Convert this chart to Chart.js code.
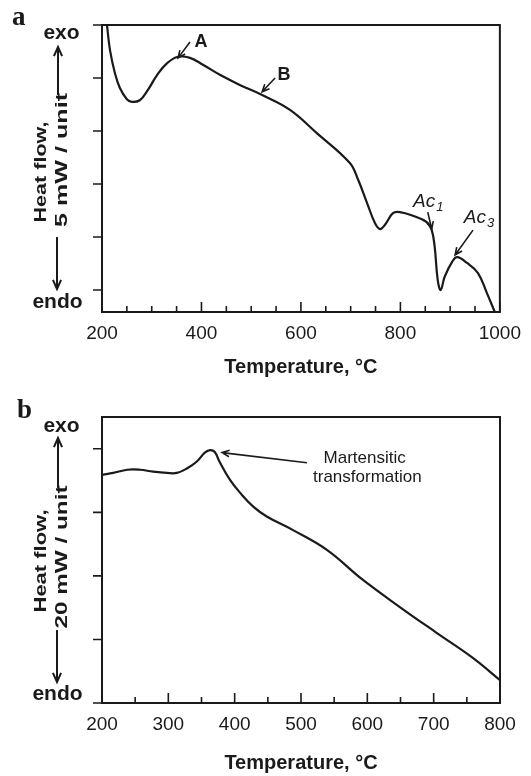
<!DOCTYPE html>
<html>
<head>
<meta charset="utf-8">
<script src="https://cdn.jsdelivr.net/npm/chart.js@4.4.0/dist/chart.umd.min.js"></script>
<style>
  html, body { margin:0; padding:0; background:#fff; }
  .panel { position:relative; width:531px; height:388px; }
</style>
</head>
<body>
<div class="panel"><canvas id="chartA"></canvas></div>
<div class="panel"><canvas id="chartB"></canvas></div>
<script>

/* ---------- panel a : heating trace, 5 mW / unit ---------- */
const tempA = [202, 210, 216, 226, 236, 250, 260, 276, 292, 311, 331, 353, 377, 403, 437, 477, 522,
               578, 632, 698, 715, 733, 749, 759, 769, 785, 799, 825, 853, 863, 869, 875, 881,
               889, 904, 914, 934, 956, 974, 990];
const flowA = [5.6, 5.0, 4.53, 4.09, 3.81, 3.60, 3.55, 3.58, 3.77, 4.06, 4.28, 4.40, 4.38, 4.25, 4.06, 3.87, 3.68,
               3.40, 2.96, 2.40, 2.08, 1.64, 1.26, 1.15, 1.23, 1.45, 1.47, 1.40, 1.28, 1.13, 0.81, 0.19, 0.0,
               0.25, 0.53, 0.62, 0.51, 0.32, -0.06, -0.42];
const xMajorA = [200, 400, 600, 800, 1000];
const xMinorA = [250, 300, 350, 450, 500, 550, 650, 700, 750, 850, 900, 950];
const yTicksA = [0, 1, 2, 3, 4, 5];

/* ---------- panel b : cooling trace, 20 mW / unit ---------- */
const tempB = [201, 217, 238, 257, 277, 298, 313, 328, 343, 355, 363, 370, 377, 393, 408, 428, 449,
               488, 539, 593, 649, 705, 759, 800];
const flowB = [3.59, 3.62, 3.67, 3.67, 3.64, 3.62, 3.62, 3.69, 3.80, 3.94, 3.98, 3.95, 3.80, 3.51, 3.31, 3.09, 2.93,
               2.72, 2.41, 1.94, 1.51, 1.10, 0.71, 0.36];
const xMajorB = [200, 300, 400, 500, 600, 700, 800];
const xMinorB = [250, 350, 450, 550, 650, 750];
const yTicksB = [0, 1, 2, 3, 4];

/* annotations, in data units */
const arrowsA = [
    { from:[377, 4.68], to:[353, 4.38] },
    { from:[548, 4.00], to:[522, 3.74] },
    { from:[855, 1.47], to:[863, 1.15] },
    { from:[946, 1.13], to:[910, 0.66] }
];
const labelsA = [
    { text:"A",  x:399, y:4.58, font:"bold 18px 'Liberation Sans', Arial, sans-serif" },
    { text:"B",  x:566, y:3.96, font:"bold 18px 'Liberation Sans', Arial, sans-serif" },
    { text:"Ac", sub:"1", x:855, y:1.57, font:"italic 19px 'Liberation Sans', Arial, sans-serif" },
    { text:"Ac", sub:"3", x:957, y:1.26, font:"italic 19px 'Liberation Sans', Arial, sans-serif" }
];
const arrowsB = [
    { from:[509, 3.78], to:[381, 3.94] }
];
const labelsB = [
    { text:"Martensitic",    x:596, y:3.78, font:"17px 'Liberation Sans', Arial, sans-serif" },
    { text:"transformation", x:600, y:3.48, font:"17px 'Liberation Sans', Arial, sans-serif" }
];

const INK = "#1a1a1a";
const SANS = "'Liberation Sans', Arial, sans-serif";

Chart.defaults.font.family = SANS;
Chart.defaults.color = INK;


/* =========================================
   drawing helpers
========================================= */

function drawArrow(ctx, x1, y1, x2, y2, size){
    const a = Math.atan2(y2 - y1, x2 - x1);
    const spread = 0.42;
    ctx.beginPath();
    ctx.moveTo(x1, y1);
    ctx.lineTo(x2, y2);
    ctx.moveTo(x2 - size*Math.cos(a - spread), y2 - size*Math.sin(a - spread));
    ctx.lineTo(x2, y2);
    ctx.lineTo(x2 - size*Math.cos(a + spread), y2 - size*Math.sin(a + spread));
    ctx.stroke();
}

// box + ticks (x ticks inward, y ticks outward)
const framePlugin = {
    id:"frame",
    afterDraw(chart, args, o){
        const { ctx, chartArea:{ left, right, top, bottom }, scales:{ x, y } } = chart;
        ctx.save();
        ctx.strokeStyle = INK;
        ctx.lineWidth = 2;
        ctx.strokeRect(left, top, right - left, bottom - top);
        ctx.lineWidth = 1.6;
        ctx.beginPath();
        o.yTicks.forEach(v => {
            const py = y.getPixelForValue(v);
            ctx.moveTo(left - 9, py); ctx.lineTo(left, py);
        });
        o.xMajor.forEach(v => {
            const px = x.getPixelForValue(v);
            ctx.moveTo(px, bottom); ctx.lineTo(px, bottom - 10);
        });
        o.xMinor.forEach(v => {
            const px = x.getPixelForValue(v);
            ctx.moveTo(px, bottom); ctx.lineTo(px, bottom - 6);
        });
        ctx.stroke();
        ctx.restore();
    }
};

// panel letter, exo / endo arrows, rotated axis label
const sidePlugin = {
    id:"side",
    afterDraw(chart, args, o){
        const ctx = chart.ctx;
        ctx.save();
        ctx.fillStyle = INK;
        ctx.strokeStyle = INK;

        ctx.font = "bold 27px 'Liberation Serif', 'Times New Roman', serif";
        ctx.textAlign = "left";
        ctx.textBaseline = "alphabetic";
        ctx.fillText(o.letter, o.letterX, o.letterY);

        ctx.font = "bold 21px " + SANS;
        ctx.textAlign = "center";
        ctx.fillText("exo", 61.5, o.exoY);
        ctx.fillText("endo", 57.5, o.endoY);

        ctx.lineWidth = 2;
        drawArrow(ctx, 58, o.up[0], 58, o.up[1], 10);
        drawArrow(ctx, 57, o.down[0], 57, o.down[1], 10);

        o.lines.forEach(l => {
            ctx.save();
            ctx.translate(l.x, l.y);
            ctx.rotate(-Math.PI/2);
            ctx.font = "bold 17px " + SANS;
            const w = ctx.measureText(l.text).width;
            ctx.scale(l.len / w, 1);
            ctx.textAlign = "center";
            ctx.textBaseline = "middle";
            ctx.fillText(l.text, 0, 0);
            ctx.restore();
        });
        ctx.restore();
    }
};

// pointer arrows and their labels
const notesPlugin = {
    id:"notes",
    afterDatasetsDraw(chart, args, o){
        const { ctx, scales:{ x, y } } = chart;
        ctx.save();
        ctx.strokeStyle = INK;
        ctx.fillStyle = INK;
        ctx.lineWidth = 1.6;
        o.arrows.forEach(a => {
            drawArrow(ctx,
                x.getPixelForValue(a.from[0]), y.getPixelForValue(a.from[1]),
                x.getPixelForValue(a.to[0]), y.getPixelForValue(a.to[1]), 8);
        });
        ctx.textAlign = "left";
        ctx.textBaseline = "alphabetic";
        o.labels.forEach(t => {
            ctx.font = t.font;
            const w = ctx.measureText(t.text).width;
            let sw = 0;
            const subFont = "italic 13px " + SANS;
            if(t.sub){ ctx.font = subFont; sw = ctx.measureText(t.sub).width; }
            const px = x.getPixelForValue(t.x) - (w + sw)/2;
            const py = y.getPixelForValue(t.y);
            ctx.font = t.font;
            ctx.fillText(t.text, px, py);
            if(t.sub){ ctx.font = subFont; ctx.fillText(t.sub, px + w + 1, py + 4); }
        });
        ctx.restore();
    }
};


/* =========================================
   chart builder
========================================= */

function buildChart(id, c){

    return new Chart(document.getElementById(id), {
        type:"line",
        data:{
            datasets:[{
                data: c.temps.map((t, i) => ({ x:t, y:c.flows[i] })),
                borderColor: INK,
                borderWidth: 2.2,
                pointRadius: 0,
                tension: 0.4,
                fill: false,
                clip: 0
            }]
        },
        options:{
            responsive:true,
            maintainAspectRatio:false,
            animation:false,
            events:[],
            layout:{ padding:{ top:c.top, right:31, left:0, bottom:0 } },
            plugins:{
                legend:{ display:false },
                tooltip:{ enabled:false },
                frame:{ yTicks:c.yTicks, xMajor:c.xMajor, xMinor:c.xMinor },
                side:c.side,
                notes:{ arrows:c.arrows, labels:c.labels }
            },
            scales:{
                x:{
                    type:"linear",
                    min:c.xMin, max:c.xMax,
                    grid:{ display:false, drawTicks:false },
                    border:{ display:false },
                    afterBuildTicks: s => { s.ticks = c.xMajor.map(v => ({ value:v })); },
                    afterFit: s => { s.height = c.xHeight; },
                    ticks:{
                        color:INK, font:{ size:19 }, padding:10,
                        maxRotation:0, autoSkip:false,
                        callback: v => String(v)
                    },
                    title:{
                        display:true,
                        text:"Temperature, °C",
                        color:INK,
                        font:{ size:20, weight:"bold" },
                        padding:{ top:0, bottom:c.titlePad }
                    }
                },
                y:{
                    type:"linear",
                    min:c.yMin, max:c.yMax,
                    grid:{ display:false },
                    border:{ display:false },
                    ticks:{ display:false },
                    afterFit: s => { s.width = 102; }
                }
            }
        },
        plugins:[framePlugin, sidePlugin, notesPlugin]
    });

}

buildChart("chartA", {
    temps:tempA, flows:flowA,
    xMin:200, xMax:1000, yMin:-0.415, yMax:5,
    xMajor:xMajorA, xMinor:xMinorA, yTicks:yTicksA,
    top:25, xHeight:76, titlePad:9,
    arrows:arrowsA, labels:labelsA,
    side:{
        letter:"a", letterX:12, letterY:25,
        exoY:39, endoY:308,
        up:[95, 47], down:[237, 289],
        lines:[
            { text:"Heat flow,",  x:41, y:172, len:101 },
            { text:"5 mW / unit", x:62, y:160, len:134 }
        ]
    }
});

buildChart("chartB", {
    temps:tempB, flows:flowB,
    xMin:200, xMax:800, yMin:0, yMax:4.5,
    xMajor:xMajorB, xMinor:xMinorB, yTicks:yTicksB,
    top:29, xHeight:73, titlePad:1,
    arrows:arrowsB, labels:labelsB,
    side:{
        letter:"b", letterX:17, letterY:30,
        exoY:44, endoY:312,
        up:[100, 50], down:[242, 294],
        lines:[
            { text:"Heat flow,",   x:41, y:173, len:103 },
            { text:"20 mW / unit", x:62, y:169, len:143 }
        ]
    }
});

</script>
</body>
</html>
